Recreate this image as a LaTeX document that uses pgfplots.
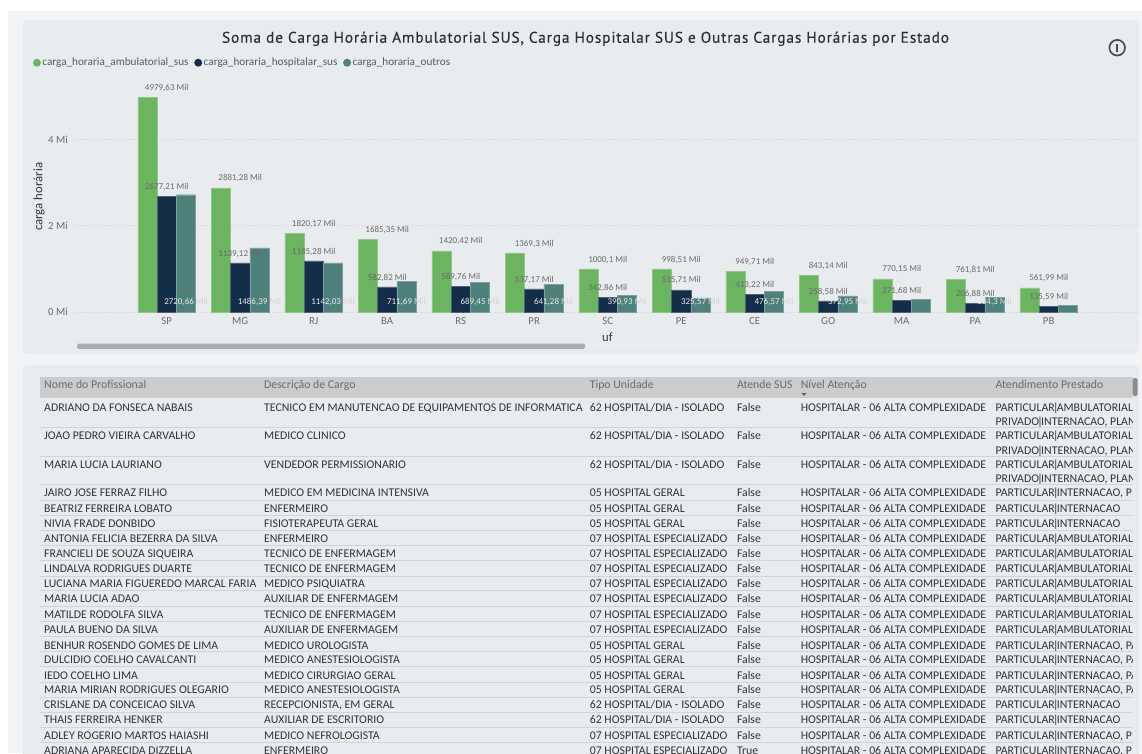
\documentclass[border=0pt]{standalone}
\usepackage{pgfplots}
\pgfplotsset{compat=1.18}
\usepackage{fontspec}
\setmainfont{Carlito}
\newfontfamily\titlefont[LetterSpace=5.5,FakeBold=0.25]{PT Sans}
\definecolor{gA}{HTML}{6BB560}
\definecolor{gB}{HTML}{142E4A}
\definecolor{gC}{HTML}{4F817C}
\definecolor{outer}{HTML}{F3F4F6}
\definecolor{panel}{HTML}{E9ECEF}
\definecolor{milc}{HTML}{D2D3D5}
\definecolor{lab}{HTML}{6A6A6A}
\definecolor{tbltxt}{HTML}{333333}
\definecolor{rowline}{HTML}{D2D5D8}
\protected\def\M{\textcolor{milc}{Mil}}
\newcommand\fs[1]{\fontsize{#1pt}{#1pt}\selectfont}
\newcommand\B{\kern-1.7pt|\kern-1.7pt}
\newcommand\C[3]{\node[anchor=base west,inner sep=0pt,text=tbltxt,font=\fs{11.8},yshift=-3.8pt] at (#1pt,-#2pt) {#3};}
\newcommand\HH[2]{\node[anchor=base west,inner sep=0pt,text=black!58,font=\fs{11.8},yshift=-3.8pt] at (#1pt,-384.6pt) {#2};}
\newcommand\R[7]{\C{44}{#1}{#2}\C{264}{#1}{#3}\C{589.6}{#1}{#4}\C{736.8}{#1}{#5}\C{800.6}{#1}{HOSPITALAR - 06 ALTA COMPLEXIDADE}\C{995.4}{#1}{#6}}
\begin{document}
\begin{tikzpicture}
\useasboundingbox (0pt,0pt) rectangle (1142pt,-753pt);
\fill[white] (0pt,0pt) rectangle (1142pt,-753pt);
\fill[outer] (8pt,-11pt) rectangle (1142pt,-753pt);
\fill[panel,rounded corners=5pt] (22.6pt,-20pt) rectangle (1139pt,-354pt);
\fill[panel,rounded corners=5pt] (22.6pt,-364.7pt) rectangle (1139pt,-760pt);
% scroll bar
\fill[black!7,rounded corners=2pt] (77pt,-343.5pt) rectangle (1139pt,-348.8pt);
\fill[black!32,rounded corners=1.5pt] (77pt,-343.5pt) rectangle (585pt,-348.8pt);
% title and icon
\node[inner sep=0pt,text=black!82,font=\fs{15.4}\titlefont] at (585.5pt,-38.8pt) {Soma de Carga Horária Ambulatorial SUS, Carga Hospitalar SUS e Outras Cargas Horárias por Estado};
\draw[black!70,line width=1.7pt] (1117.2pt,-47.7pt) circle (7.8pt);
\draw[black!70,line width=1.7pt] (1117.2pt,-43.6pt) -- (1117.2pt,-51.8pt);
\begin{axis}[
  at={(75pt,-312pt)},anchor=south west,
  x=73.5pt,y=0.0431pt,
  xmin=-1.2477,xmax=13.24,ymin=0,ymax=5150,
  clip=false,
  axis line style={draw=none},
  tick style={draw=none},
  ymajorgrids,
  grid style={dotted,line width=0.7pt,black!16},
  xtick={0,1,2,3,4,5,6,7,8,9,10,11,12},
  xticklabels={SP,MG,RJ,BA,RS,PR,SC,PE,CE,GO,MA,PA,PB},
  ytick={0,2000,4000},
  yticklabels={0 Mi,2 Mi,4 Mi},
  ticklabel style={font=\fs{10.8},text=black!58},
  xticklabel style={inner sep=0pt,anchor=center,yshift=-9pt},
  yticklabel style={inner sep=0pt,anchor=east,xshift=-7pt},
  xlabel={uf},
  xlabel style={font=\fs{12.6},text=black!80,inner sep=0pt,anchor=center,at={(axis description cs:0.5,0)},yshift=-25pt},
  ylabel={carga horária},
  ylabel style={font=\fs{12.8},text=black!80,inner sep=0pt,anchor=center,at={(axis description cs:-0.0338,0.519)}},
  legend columns=3,
  legend cell align=left,
  legend style={at={(axis description cs:-0.0395,1.123)},anchor=west,draw=none,fill=none,inner sep=0pt,outer sep=0pt,
    font=\fs{11.2},text=black!65,nodes={inner sep=0.5pt},
    /tikz/every even column/.append style={column sep=5.2pt},
    /tikz/every odd column/.append style={column sep=1pt}},
  point meta=explicit symbolic,
  barstyle/.style={ybar,bar width=19.3pt,draw=#1!75!white,line width=0.4pt,fill=#1,
    legend image code/.code={\fill[##1,draw=none] (0pt,0pt) circle (4pt);},
    nodes near coords,
    nodes near coords style={font=\fs{9},text=lab,inner sep=0pt,anchor=south,yshift=5.5pt}},
]
\addplot[barstyle=gA,bar shift=-19.3pt] coordinates {
 (0,4979.63)[4979,63 Mil] (1,2881.28)[2881,28 Mil] (2,1820.17)[1820,17 Mil] (3,1685.35)[1685,35 Mil]
 (4,1420.42)[1420,42 Mil] (5,1369.3)[1369,3 Mil] (6,1000.1)[1000,1 Mil] (7,998.51)[998,51 Mil]
 (8,949.71)[949,71 Mil] (9,843.14)[843,14 Mil] (10,770.15)[770,15 Mil] (11,761.81)[761,81 Mil] (12,561.99)[561,99 Mil]};
\addlegendentry{carga\_horaria\_ambulatorial\_sus}
\addplot[barstyle=gB,bar shift=0pt,nodes near coords={}] coordinates {
 (0,2677.21)[] (1,1139.12)[] (2,1185.28)[] (3,582.82)[]
 (4,589.76)[] (5,537.17)[] (6,342.86)[] (7,515.71)[]
 (8,413.22)[] (9,258.58)[] (10,271.68)[] (11,206.88)[] (12,135.59)[]};
\addlegendentry{carga\_horaria\_hospitalar\_sus}
\addplot[barstyle=gC,bar shift=19.3pt,nodes near coords={}] coordinates {
 (0,2720.66)[] (1,1486.39)[] (2,1142.03)[] (3,711.69)[] (4,689.45)[] (5,641.28)[] (6,390.93)[]
 (7,325.57)[] (8,476.57)[] (9,372.95)[] (10,300)[] (11,334.3)[] (12,150)[]};
\addlegendentry{carga\_horaria\_outros}
% labels of the navy bars, drawn over the teal bars
\addplot[forget plot,draw=none,mark=none,nodes near coords,
  nodes near coords style={font=\fs{9},text=lab,inner sep=0pt,anchor=south,yshift=5.5pt}] coordinates {
 (0,2677.21)[2677,21 Mil] (1,1139.12)[1139,12 Mil] (2,1185.28)[1185,28 Mil] (3,582.82)[582,82 Mil]
 (4,589.76)[589,76 Mil] (5,537.17)[537,17 Mil] (6,342.86)[342,86 Mil] (7,515.71)[515,71 Mil]
 (8,413.22)[413,22 Mil] (9,258.58)[258,58 Mil] (10,271.68)[271,68 Mil] (11,206.88)[206,88 Mil] (12,135.59)[135,59 Mil]};
\addplot[forget plot,draw=none,mark=none,nodes near coords,
  nodes near coords style={font=\fs{9},text=white!92!black,inner sep=0pt,anchor=center}] coordinates {
 (0.2626,232)[2720,66 \M] (1.2626,232)[1486,39 \M] (2.2626,232)[1142,03 \M] (3.2626,232)[711,69 \M]
 (4.2626,232)[689,45 \M] (5.2626,232)[641,28 \M] (6.2626,232)[390,93 \M] (7.2626,232)[325,57 \M]
 (8.2626,232)[476,57 \M] (9.2626,232)[372,95 \M] (11.2626,232)[334,3 \M]};
\end{axis}
% table
\begin{scope}
\clip (30pt,-370pt) rectangle (1132.5pt,-753pt);
\fill[black!20] (40pt,-376.7pt) rectangle (1133pt,-397.7pt);
\foreach \y in {427.3,456,484.7,500,515.7,530,545.7,560.7,576,590.7,606,621.7,636.7,651.7,666.7,682,697.3,712.3,727.3,742.3}
  \draw[rowline,line width=0.9pt] (40pt,-\y pt) -- (1133pt,-\y pt);
\HH{44}{Nome do Profissional}\HH{264}{Descrição de Cargo}\HH{589.6}{Tipo Unidade}\HH{736.8}{Atende SUS}\HH{800.6}{Nível Atenção}\HH{995.4}{Atendimento Prestado}
\fill[black!62] (801.5pt,-393pt) -- (806.5pt,-393pt) -- (804pt,-396pt) -- cycle;
\R{407.3}{ADRIANO DA FONSECA NABAIS}{TECNICO EM MANUTENCAO DE EQUIPAMENTOS DE INFORMATICA}{62 HOSPITAL/DIA - ISOLADO}{False}{PARTICULAR\B AMBULATORIAL,}{}
\R{435.6}{JOAO PEDRO VIEIRA CARVALHO}{MEDICO CLINICO}{62 HOSPITAL/DIA - ISOLADO}{False}{PARTICULAR\B AMBULATORIAL,}{}
\R{464.6}{MARIA LUCIA LAURIANO}{VENDEDOR PERMISSIONARIO}{62 HOSPITAL/DIA - ISOLADO}{False}{PARTICULAR\B AMBULATORIAL,}{}
\C{995.4}{422}{PRIVADO\B INTERNACAO, PLAN}
\C{995.4}{450.3}{PRIVADO\B INTERNACAO, PLAN}
\C{995.4}{478.6}{PRIVADO\B INTERNACAO, PLAN}
\R{493}{JAIRO JOSE FERRAZ FILHO}{MEDICO EM MEDICINA INTENSIVA}{05 HOSPITAL GERAL}{False}{PARTICULAR\B INTERNACAO, P}{}
\R{508.3}{BEATRIZ FERREIRA LOBATO}{ENFERMEIRO}{05 HOSPITAL GERAL}{False}{PARTICULAR\B INTERNACAO}{}
\R{524}{NIVIA FRADE DONBIDO}{FISIOTERAPEUTA GERAL}{05 HOSPITAL GERAL}{False}{PARTICULAR\B INTERNACAO}{}
\R{538.6}{ANTONIA FELICIA BEZERRA DA SILVA}{ENFERMEIRO}{07 HOSPITAL ESPECIALIZADO}{False}{PARTICULAR\B AMBULATORIAL,}{}
\R{554}{FRANCIELI DE SOUZA SIQUEIRA}{TECNICO DE ENFERMAGEM}{07 HOSPITAL ESPECIALIZADO}{False}{PARTICULAR\B AMBULATORIAL,}{}
\R{568.6}{LINDALVA RODRIGUES DUARTE}{TECNICO DE ENFERMAGEM}{07 HOSPITAL ESPECIALIZADO}{False}{PARTICULAR\B AMBULATORIAL,}{}
\R{584}{LUCIANA MARIA FIGUEREDO MARCAL FARIA}{MEDICO PSIQUIATRA}{07 HOSPITAL ESPECIALIZADO}{False}{PARTICULAR\B AMBULATORIAL,}{}
\R{598.6}{MARIA LUCIA ADAO}{AUXILIAR DE ENFERMAGEM}{07 HOSPITAL ESPECIALIZADO}{False}{PARTICULAR\B AMBULATORIAL,}{}
\R{614.3}{MATILDE RODOLFA SILVA}{TECNICO DE ENFERMAGEM}{07 HOSPITAL ESPECIALIZADO}{False}{PARTICULAR\B AMBULATORIAL,}{}
\R{629.6}{PAULA BUENO DA SILVA}{AUXILIAR DE ENFERMAGEM}{07 HOSPITAL ESPECIALIZADO}{False}{PARTICULAR\B AMBULATORIAL,}{}
\R{645.3}{BENHUR ROSENDO GOMES DE LIMA}{MEDICO UROLOGISTA}{05 HOSPITAL GERAL}{False}{PARTICULAR\B INTERNACAO, PA}{}
\R{659.6}{DULCIDIO COELHO CAVALCANTI}{MEDICO ANESTESIOLOGISTA}{05 HOSPITAL GERAL}{False}{PARTICULAR\B INTERNACAO, PA}{}
\R{675.3}{IEDO COELHO LIMA}{MEDICO CIRURGIAO GERAL}{05 HOSPITAL GERAL}{False}{PARTICULAR\B INTERNACAO, PA}{}
\R{690}{MARIA MIRIAN RODRIGUES OLEGARIO}{MEDICO ANESTESIOLOGISTA}{05 HOSPITAL GERAL}{False}{PARTICULAR\B INTERNACAO, PA}{}
\R{705}{CRISLANE DA CONCEICAO SILVA}{RECEPCIONISTA, EM GERAL}{62 HOSPITAL/DIA - ISOLADO}{False}{PARTICULAR\B INTERNACAO}{}
\R{720}{THAIS FERREIRA HENKER}{AUXILIAR DE ESCRITORIO}{62 HOSPITAL/DIA - ISOLADO}{False}{PARTICULAR\B INTERNACAO}{}
\R{735.3}{ADLEY ROGERIO MARTOS HAIASHI}{MEDICO NEFROLOGISTA}{07 HOSPITAL ESPECIALIZADO}{False}{PARTICULAR\B INTERNACAO, P}{}
\R{750.3}{ADRIANA APARECIDA DIZZELLA}{ENFERMEIRO}{07 HOSPITAL ESPECIALIZADO}{True}{PARTICULAR\B INTERNACAO, P}{}
\end{scope}
\fill[black!45,rounded corners=1.5pt] (1132.5pt,-378pt) rectangle (1137.5pt,-396pt);
\end{tikzpicture}
\end{document}
